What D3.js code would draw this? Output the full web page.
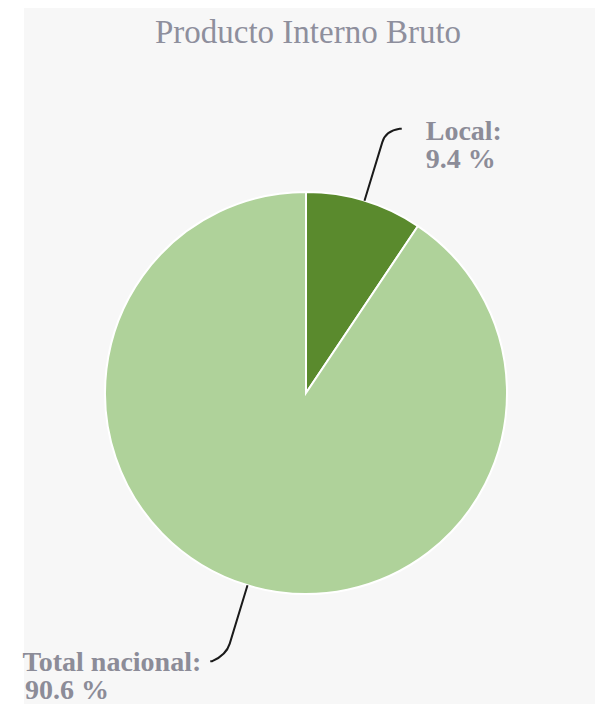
<!DOCTYPE html>
<html>
<head>
<meta charset="utf-8">
<script src="https://cdn.jsdelivr.net/npm/d3@7"></script>
<style>
  body { margin: 0; background: #ffffff; }
  svg { display: block; }
</style>
</head>
<body>
<div class="mainView"></div>
<script>
// chart values
let categories = ["Local", "Total nacional"];
let shares = [9.4, 90.6];
let labelNames = ["Local:", "Total nacional:"];
let labelValues = ["9.4 %", "90.6 %"];
let titleText = "Producto Interno Bruto";

function getConfig(){
    let width = 595;
    let height = 713;
    let cx = 306, cy = 393, radius = 201;
    let svg = d3.select(".mainView")
        .append("svg")
        .attr("width", width)
        .attr("height", height);
    return { width, height, cx, cy, radius, svg };
}

function drawBackground(config){
    let { svg } = config;
    svg.append("rect")
        .attr("x", 24).attr("y", 8)
        .attr("width", 571).attr("height", 696)
        .attr("fill", "#f7f7f7");
    svg.append("text")
        .attr("x", 308)
        .attr("y", 43)
        .attr("text-anchor", "middle")
        .style("font-family", "'Liberation Serif', 'Times New Roman', serif")
        .style("font-size", "33px")
        .style("fill", "#8e8f9d")
        .text(titleText);
}

function drawPie(config){
    let { svg, cx, cy, radius } = config;
    let data = categories.map((c, i) => ({ name: c, value: shares[i], label: labelNames[i], pct: labelValues[i] }));
    let color = d3.scaleOrdinal()
        .domain(categories)
        .range(["#5a8a2d", "#afd29a"]);
    let pie = d3.pie().sort(null).value(d => d.value);
    let arcs = pie(data);
    let arc = d3.arc().innerRadius(0).outerRadius(radius);

    let g = svg.append("g").attr("transform", "translate(" + [cx, cy] + ")");
    g.selectAll("path.slice")
        .data(arcs)
        .enter()
        .append("path")
        .attr("class", "slice")
        .attr("d", arc)
        .attr("fill", d => color(d.data.name))
        .attr("stroke", "#ffffff")
        .attr("stroke-width", 2);

    // leader lines + labels
    arcs.forEach(function(d){
        let a = (d.startAngle + d.endAngle) / 2;
        let sx = Math.sin(a), sy = -Math.cos(a);
        let right = sx >= 0;
        let p0 = [sx * radius, sy * radius];
        let p1 = [sx * (radius + 73), sy * (radius + 73)];
        let p2 = [p1[0] + (right ? 14 : -14), p1[1] + (right ? -2 : 6)];
        let p3 = [p2[0] + (right ? 2 : -2), p2[1]];
        let path = d3.path();
        path.moveTo(p0[0], p0[1]);
        path.lineTo(p1[0] - sx * 12, p1[1] - sy * 12);
        path.quadraticCurveTo(p1[0], p1[1], p2[0], p2[1]);
        path.lineTo(p3[0], p3[1]);
        g.append("path")
            .attr("d", path.toString())
            .attr("fill", "none")
            .attr("stroke", "#1a1a1a")
            .attr("stroke-width", 2);

        let tx = right ? p3[0] + 24 : p3[0] - 9;
        let ty = right ? p3[1] + 11 : p3[1] + 10;
        let t = g.append("text")
            .attr("x", tx)
            .attr("y", ty)
            .attr("text-anchor", right ? "start" : "end")
            .style("font-family", "'Liberation Serif', 'Times New Roman', serif")
            .style("font-weight", "bold")
            .style("font-size", "28px")
            .style("fill", "#8c8c98");
        t.append("tspan").text(d.data.label);
        t.append("tspan")
            .attr("x", right ? tx : -cx + 25)
            .attr("text-anchor", "start")
            .attr("dy", 28)
            .text(d.data.pct);
    });
}

let config = getConfig();
drawBackground(config);
drawPie(config);
</script>
</body>
</html>
